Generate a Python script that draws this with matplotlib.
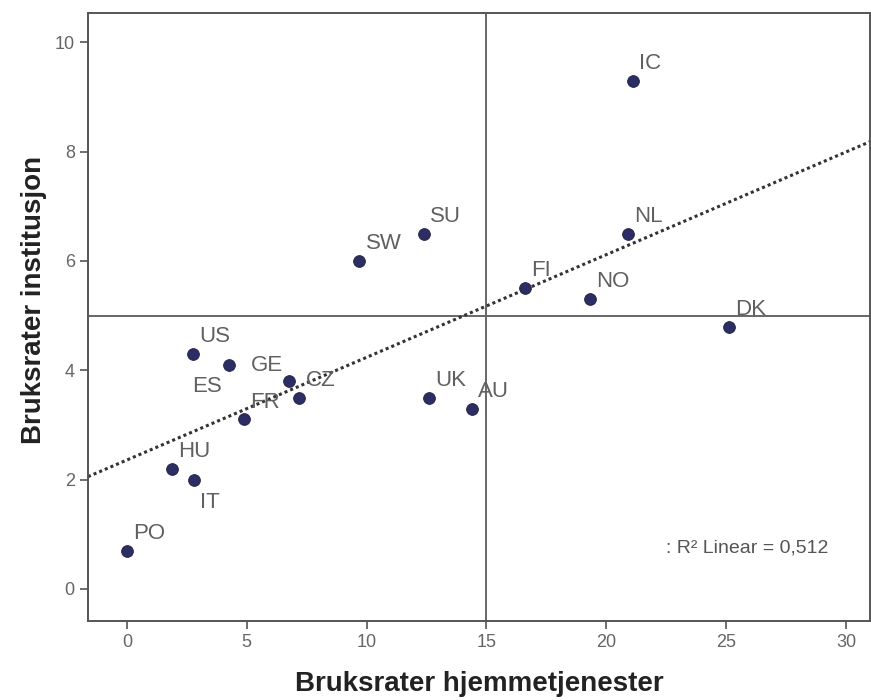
import numpy as np
import matplotlib
matplotlib.use("Agg")
import matplotlib.pyplot as plt

countries = ["IC", "NL", "SU", "SW", "FI", "NO", "DK", "US", "ES", "GE",
             "CZ", "FR", "UK", "AU", "HU", "IT", "PO"]
home_care = [21.1, 20.9, 12.4, 9.7, 16.6, 19.3, 25.1, 2.75, 4.25, 6.75,
             7.2, 4.9, 12.6, 14.4, 1.9, 2.8, 0.0]
institution = [9.3, 6.5, 6.5, 6.0, 5.5, 5.3, 4.8, 4.3, 4.1, 3.8,
               3.5, 3.1, 3.5, 3.3, 2.2, 2.0, 0.7]
# label offsets in points (dx, dy) relative to the point, baseline-aligned
default_off = (4.5, 8.5)
label_pos = {"ES": (-26.5, -19.5), "GE": (-27.5, 7), "IT": (4, -20.5)}
xticks = [0, 5, 10, 15, 20, 25, 30]
yticks = [0, 2, 4, 6, 8, 10]
ref_x = 15
ref_y = 5
r2_text = ": R\u00b2 Linear = 0,512"

plt.rcParams['font.family'] = ['Liberation Sans', 'DejaVu Sans']

fig = plt.figure(figsize=(8.71, 7.0), dpi=100)
ax = fig.add_axes([0.101, 0.113, 0.898, 0.868])

xlim = (-1.62, 31.0)
ylim = (-0.585, 10.53)
ax.set_xlim(*xlim)
ax.set_ylim(*ylim)

ax.axvline(ref_x, color="#666666", lw=1.4, zorder=1)
ax.axhline(ref_y, color="#666666", lw=1.4, zorder=1)

x = np.array(home_care)
y = np.array(institution)
slope, intercept = np.polyfit(x, y, 1)
xs = np.array(xlim)
ax.plot(xs, intercept + slope * xs, color="#333333", lw=2.2,
        linestyle=(0, (1, 1)), zorder=2)

ax.scatter(x, y, s=72, color="#2b2d63", edgecolor="#222244", linewidth=0.6, zorder=3)

for c, xi, yi in zip(countries, home_care, institution):
    dx, dy = label_pos.get(c, default_off)
    ax.annotate(c, (xi, yi), xytext=(dx, dy), textcoords="offset points",
                fontsize=16, color="#606060", zorder=4)

ax.text(22.5, 0.75, r2_text, fontsize=14, color="#555555", va="center")

ax.set_xticks(xticks)
ax.set_yticks(yticks)
ax.tick_params(direction="out", length=6, width=1.2, color="#555555",
               labelcolor="#666666", labelsize=13)
for s in ax.spines.values():
    s.set_color("#555555")
    s.set_linewidth(1.4)

ax.set_xlabel("Bruksrater hjemmetjenester", fontsize=20, fontweight="bold",
              color="#222222", labelpad=14)
ax.set_ylabel("Bruksrater institusjon", fontsize=20, fontweight="bold",
              color="#222222")
ax.yaxis.set_label_coords(-0.052, 0.528)

fig.savefig("out.png", dpi=100)
